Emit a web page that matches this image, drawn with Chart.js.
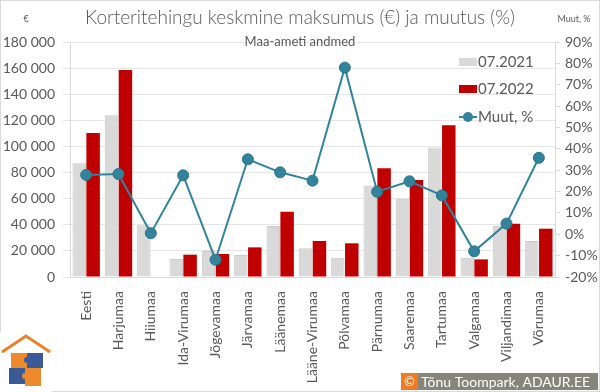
<!DOCTYPE html>
<html><head><meta charset="utf-8">
<script src="https://cdn.jsdelivr.net/npm/chart.js@4/dist/chart.umd.min.js"></script>
<style>html,body{margin:0;padding:0;background:#fff}#wrap{width:600px;height:392px;position:relative}</style>
</head><body><div id="wrap"><canvas id="c" width="600" height="392"></canvas></div>
<script>
const categories = ['Eesti','Harjumaa','Hiiumaa','Ida-Virumaa','Jõgevamaa','Järvamaa','Läänemaa','Lääne-Virumaa','Põlvamaa','Pärnumaa','Saaremaa','Tartumaa','Valgamaa','Viljandimaa','Võrumaa'];
const price2021 = [87100, 123900, 39600, 13800, 19900, 16900, 39100, 22000, 14800, 70000, 60000, 99100, 14800, 39100, 27600];
const price2022 = [110300, 158600, null, 17100, 17600, 22700, 50000, 27600, 25800, 83300, 74300, 116200, 13500, 40800, 37000];
const changePct = [27.8, 28.2, 0.5, 27.6, -11.9, 35.1, 29, 25.1, 78, 19.9, 24.8, 18.2, -8, 5, 35.8];
const seriesNames = ['07.2021', '07.2022', 'Muut, %'];
const titleText = 'Korteritehingu keskmine maksumus (€) ja muutus (%)';
const subtitleText = 'Maa-ameti andmed';

const TXT = '#595959';
const FONT = 'Lato, "Liberation Sans", sans-serif';
const GRAY = '#d9d9d9', RED = '#c00000', TEAL = '#31849b';

const decor = {
  id: 'decor',
  afterDraw(chart) {
    const ctx = chart.ctx;
    ctx.save();
    // titles
    ctx.fillStyle = TXT;
    ctx.textAlign = 'center'; ctx.textBaseline = 'middle';
    ctx.font = '300 19px ' + FONT;
    ctx.fillText(titleText, 300, 18);
    ctx.font = '13px ' + FONT;
    ctx.fillText(subtitleText, 300, 42);
    ctx.font = '9px ' + FONT;
    ctx.fillText('€', 26, 19);
    ctx.fillText('Muut, %', 574, 19);
    // legend
    ctx.textAlign = 'left';
    ctx.font = '15px ' + FONT;
    ctx.fillStyle = GRAY; ctx.fillRect(459, 58, 18, 8);
    ctx.fillStyle = RED; ctx.fillRect(459, 85, 18, 8);
    ctx.strokeStyle = TEAL; ctx.lineWidth = 2;
    ctx.beginPath(); ctx.moveTo(459, 117); ctx.lineTo(477, 117); ctx.stroke();
    ctx.fillStyle = TEAL; ctx.beginPath(); ctx.arc(468, 117, 5, 0, Math.PI*2); ctx.fill();
    ctx.fillStyle = TXT;
    ctx.fillText(seriesNames[0], 478, 62);
    ctx.fillText(seriesNames[1], 478, 89);
    ctx.fillText(seriesNames[2], 478, 117);
    // border
    ctx.strokeStyle = '#d9d9d9'; ctx.lineWidth = 1;
    ctx.strokeRect(0.5, 0.5, 599, 391);
    // logo
    ctx.fillStyle = '#fff'; ctx.fillRect(0, 332, 52, 60);
    ctx.strokeStyle = '#e8822a'; ctx.lineWidth = 3;
    ctx.beginPath(); ctx.moveTo(2, 352); ctx.lineTo(26, 336); ctx.lineTo(50, 352); ctx.stroke();
    ctx.fillStyle = '#ee8a2e'; ctx.fillRect(11, 353, 16, 15);
    ctx.fillStyle = '#3b5b98'; ctx.fillRect(27, 353, 16, 15);
    ctx.fillStyle = '#3b5b98'; ctx.fillRect(9, 368, 16, 16);
    ctx.fillStyle = '#ee8a2e'; ctx.fillRect(25, 368, 16, 18);
    ctx.fillStyle = '#3b5b98'; ctx.beginPath(); ctx.arc(27, 360, 3, 0, Math.PI*2); ctx.fill();
    ctx.fillStyle = '#ee8a2e'; ctx.beginPath(); ctx.arc(25, 376, 3, 0, Math.PI*2); ctx.fill();
    // copyright
    ctx.fillStyle = '#f07a22'; ctx.fillRect(401, 373, 17, 17);
    ctx.fillStyle = '#85857a'; ctx.fillRect(418, 373, 180, 17);
    ctx.fillStyle = '#fff';
    ctx.font = '13px ' + FONT; ctx.textAlign = 'center';
    ctx.fillText('©', 409.5, 382);
    ctx.textAlign = 'left'; ctx.font = '14px ' + FONT;
    ctx.fillText('Tõnu Toompark, ADAUR.EE', 421, 382);
    ctx.restore();
  }
};

const fmt = v => String(v).replace(/\B(?=(\d{3})+(?!\d))/g, ' ');

new Chart(document.getElementById('c'), {
  data: {
    labels: categories,
    datasets: [
      { type: 'line', label: seriesNames[2], data: changePct, yAxisID: 'y1', order: 0,
        borderColor: TEAL, backgroundColor: TEAL, borderWidth: 2, pointRadius: 5.5,
        pointBackgroundColor: TEAL, pointBorderColor: '#2a7388', pointBorderWidth: 1, tension: 0 },
      { type: 'bar', label: seriesNames[0], data: price2021, yAxisID: 'y', order: 1,
        backgroundColor: GRAY, borderColor: '#c9c9c9', borderWidth: 1,
        categoryPercentage: 0.86, barPercentage: 0.97 },
      { type: 'bar', label: seriesNames[1], data: price2022, yAxisID: 'y', order: 1,
        backgroundColor: RED, borderColor: RED, borderWidth: 0,
        categoryPercentage: 0.86, barPercentage: 0.97 }
    ]
  },
  options: {
    responsive: false, animation: false,
    layout: { padding: { top: 42, left: 0, right: 0, bottom: 0 } },
    plugins: { legend: { display: false }, title: { display: false }, tooltip: { enabled: false } },
    scales: {
      x: {
        grid: { display: false, drawTicks: false },
        border: { display: true, color: '#d9d9d9' },
        ticks: { minRotation: 90, maxRotation: 90, autoSkip: false, padding: 14, color: TXT, font: { family: FONT, size: 14 } },
        afterFit(s) { s.height = 115; }
      },
      y: {
        position: 'left', min: 0, max: 180000,
        ticks: { stepSize: 20000, callback: v => fmt(v), padding: 8, color: TXT, font: { family: FONT, size: 14 } },
        grid: { color: '#e6e6e6', tickLength: 7 },
        border: { color: '#d9d9d9' },
        afterFit(s) { s.width = 70; }
      },
      y1: {
        position: 'right', min: -20, max: 90,
        ticks: { stepSize: 10, callback: v => v + '%', padding: 5, color: TXT, font: { family: FONT, size: 14 } },
        grid: { drawOnChartArea: false, color: '#d9d9d9', tickLength: 5 },
        border: { color: '#d9d9d9' },
        afterFit(s) { s.width = 45; }
      }
    }
  },
  plugins: [decor]
});
</script></body></html>
